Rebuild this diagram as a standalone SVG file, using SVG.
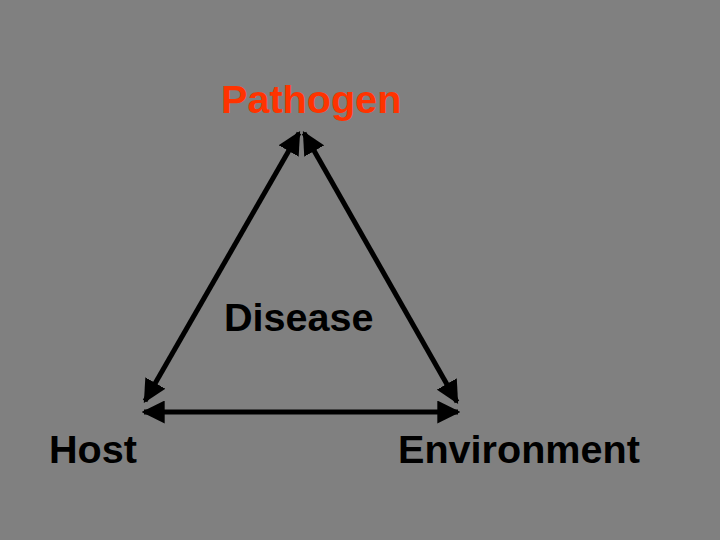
<svg xmlns="http://www.w3.org/2000/svg" width="720" height="540" viewBox="0 0 720 540">
<style>
text{font-family:"Liberation Sans",Arial,sans-serif;font-weight:bold;font-size:39.6px;fill:#000}
.red{fill:#FF3300}
.ln{stroke:#000;stroke-width:5;fill:none}
</style>
<defs>
<marker id="ah" viewBox="0 0 10 10" refX="9" refY="5" markerWidth="4.6" markerHeight="4.6" orient="auto-start-reverse" markerUnits="strokeWidth">
<path d="M0,0 L10,5 L0,10 z" fill="#000"/>
</marker>
</defs>
<rect width="720" height="540" fill="#808080"/>
<g id="connectors">
<line class="ln" x1="299" y1="133" x2="145" y2="401" marker-start="url(#ah)" marker-end="url(#ah)"/>
<line class="ln" x1="304" y1="133" x2="457" y2="402" marker-start="url(#ah)" marker-end="url(#ah)"/>
<line class="ln" x1="144" y1="412" x2="458" y2="412" marker-start="url(#ah)" marker-end="url(#ah)"/>
</g>
<g id="pathogen"><text class="red" x="221" y="113">Pathogen</text></g>
<g id="disease"><text x="224" y="331">Disease</text></g>
<g id="host"><text x="49" y="463">Host</text></g>
<g id="environment"><text x="398" y="463">Environment</text></g>
</svg>
